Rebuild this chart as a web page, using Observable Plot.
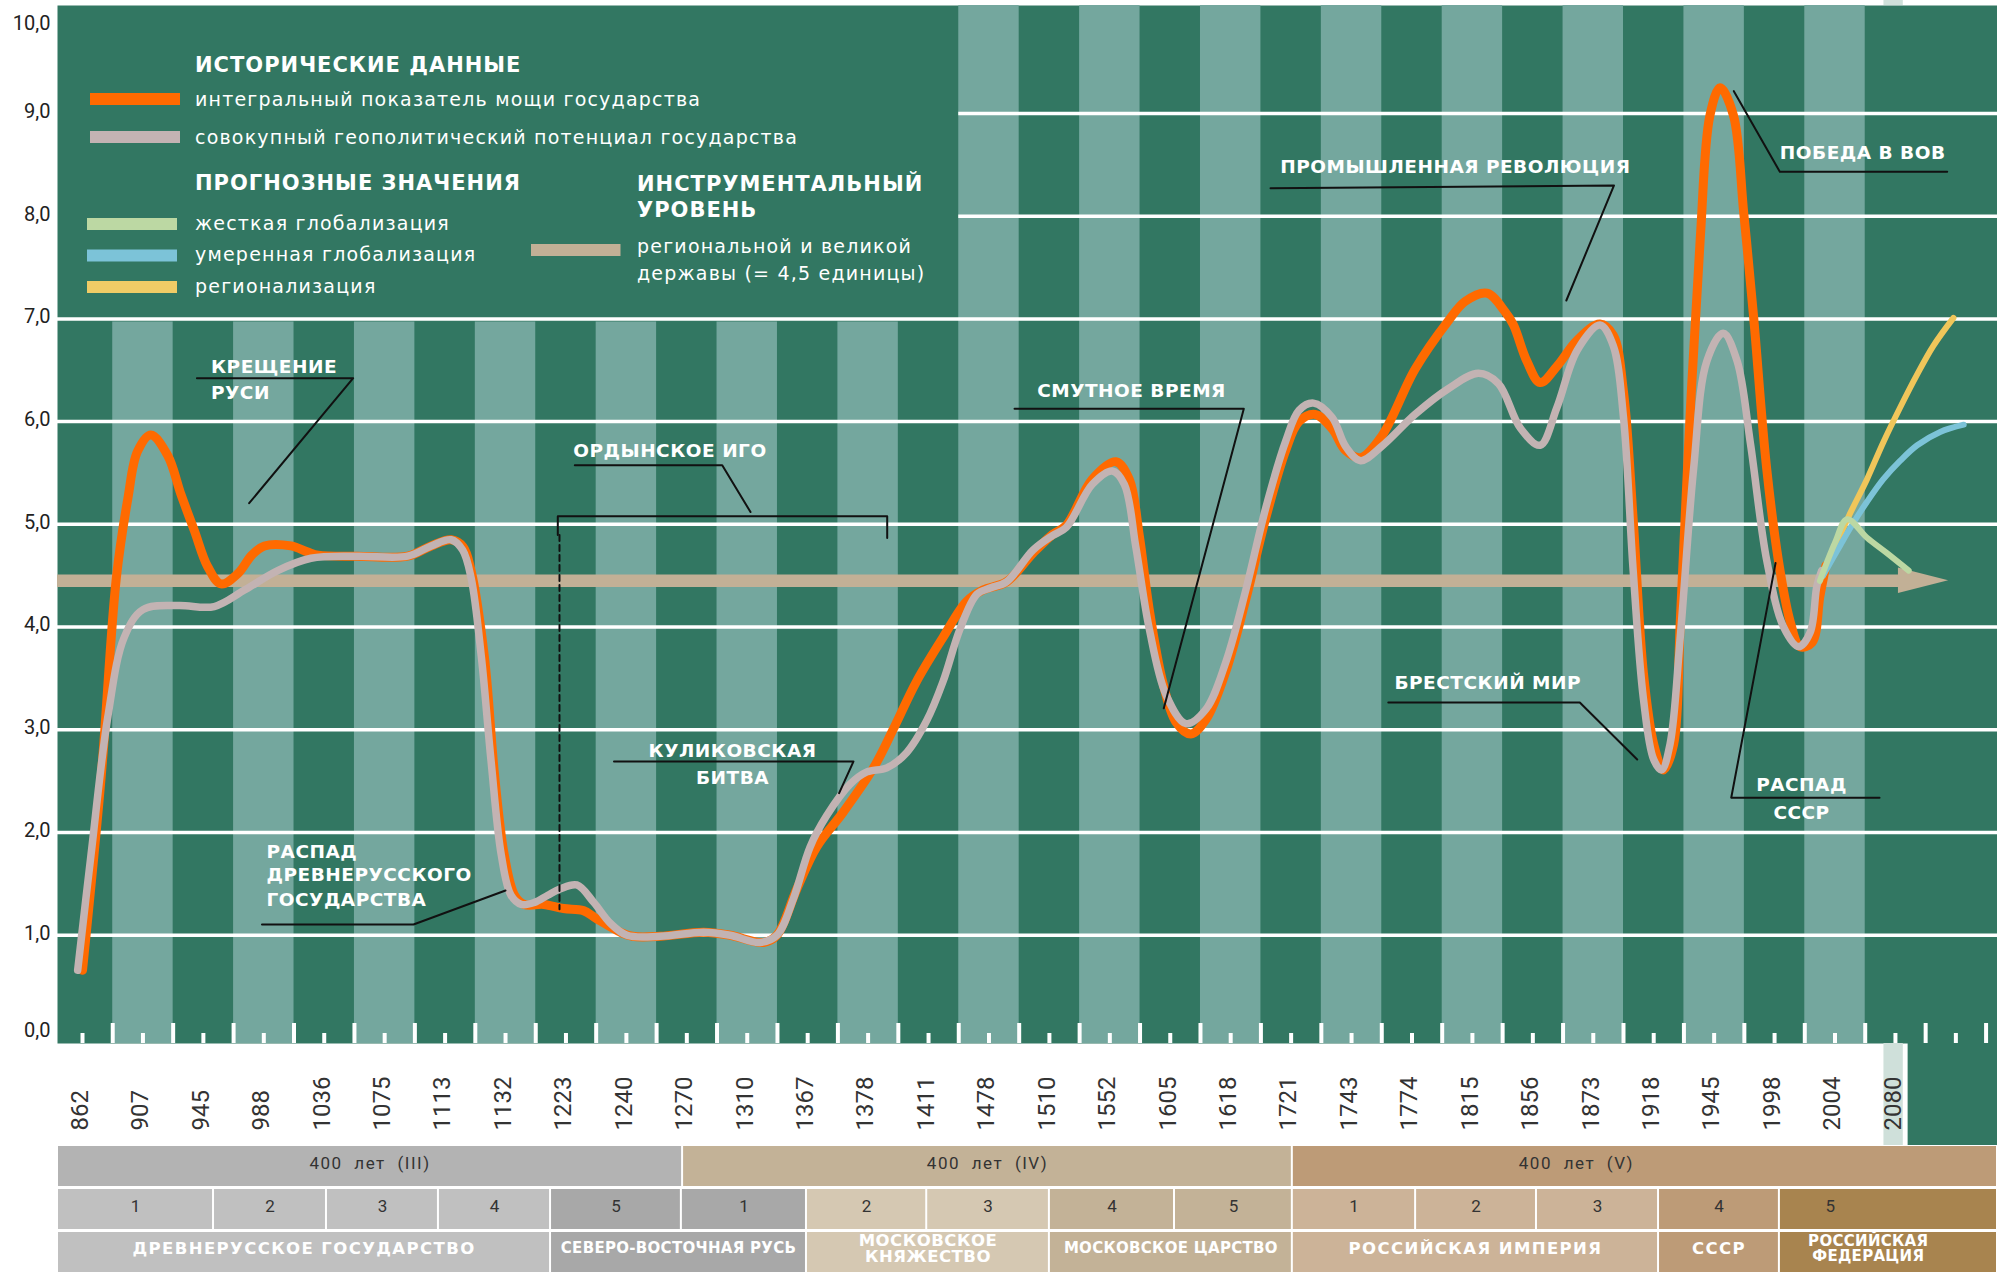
<!DOCTYPE html>
<html>
<head>
<meta charset="utf-8">
<script src="https://cdn.jsdelivr.net/npm/d3@7"></script>
<script src="https://cdn.jsdelivr.net/npm/@observablehq/plot@0.6"></script>
<style>
  html, body { margin: 0; padding: 0; background: #fff; }
  #chart svg { display: block; }
  g[aria-description="callouts"] text { letter-spacing: 0.5px; }
  g[aria-description="legend-head"] text { letter-spacing: 1px; }
  g[aria-description="legend-item"] text { letter-spacing: 1.2px; }
  g[aria-description="cycle-label"] text { letter-spacing: 1.5px; word-spacing: 6px; }
  g[aria-description="state-spaced"] text { letter-spacing: 1.4px; }
  g[aria-description="state-normal"] text { letter-spacing: 0.5px; }
  g[aria-description="state-tight"] text { letter-spacing: 0.3px; }
</style>
</head>
<body>
<div id="chart"></div>
<script>
// ---------- DATA ----------
const years = ["862","907","945","988","1036","1075","1113","1132","1223","1240","1270","1310","1367","1378","1411","1478","1510","1552","1605","1618","1721","1743","1774","1815","1856","1873","1918","1945","1998","2004","2080"];
const yTicks = [0,1,2,3,4,5,6,7,8,9,10];

// positions along the (evenly spaced) period axis, one unit per column
const orangeX = [0.50,0.81,1.06,1.25,1.41,1.63,1.91,2.13,2.35,2.57,2.79,3.07,3.30,3.51,3.95,4.23,4.40,5.05,5.88,6.27,6.60,6.80,6.93,7.15,7.32,7.48,7.65,7.81,8.13,8.46,8.79,9.01,9.40,9.60,10.06,10.78,11.22,11.77,11.99,12.32,12.65,13.09,13.59,13.92,14.30,14.74,15.13,15.40,15.79,16.23,16.55,16.78,17.21,17.60,17.82,17.99,18.15,18.37,18.59,18.84,19.09,19.42,19.75,20.08,20.41,20.63,20.90,21.18,21.40,21.65,22.00,22.55,23.10,23.38,23.74,24.04,24.18,24.40,24.62,24.90,25.23,25.61,25.83,26.00,26.16,26.33,26.50,26.66,26.83,26.94,27.10,27.27,27.43,27.60,27.82,27.99,28.15,28.37,28.59,28.76,28.92,29.12,29.25,29.35];
const orangeY = [0.66,2.55,4.48,5.25,5.71,5.87,5.67,5.29,4.94,4.59,4.42,4.52,4.70,4.79,4.79,4.73,4.70,4.69,4.69,4.79,4.85,4.78,4.55,3.71,2.55,1.78,1.39,1.30,1.30,1.26,1.24,1.16,1.03,0.99,0.99,1.03,1.00,0.93,1.00,1.45,1.86,2.20,2.63,3.01,3.47,3.90,4.25,4.36,4.44,4.72,4.90,4.99,5.44,5.61,5.44,4.88,4.18,3.48,3.08,2.96,3.10,3.57,4.27,5.06,5.72,6.00,6.07,5.93,5.72,5.65,5.86,6.51,6.98,7.17,7.25,7.07,6.94,6.59,6.38,6.54,6.79,6.95,6.84,6.29,5.05,3.55,2.86,2.61,2.86,4.06,6.04,7.78,8.98,9.25,8.98,8.03,7.04,5.54,4.55,4.05,3.81,3.85,4.30,4.60];

const greyX = [0.42,0.64,0.92,1.19,1.50,2.08,2.68,3.18,3.73,4.28,5.05,5.88,6.27,6.60,6.79,6.93,7.10,7.26,7.43,7.59,7.76,7.98,8.20,8.40,8.68,8.96,9.23,9.51,10.06,10.78,11.22,11.71,11.99,12.26,12.54,12.81,13.20,13.48,13.81,14.14,14.47,14.74,15.02,15.30,15.52,15.79,16.23,16.55,16.78,17.21,17.54,17.74,17.93,18.15,18.43,18.76,19.09,19.42,19.75,20.08,20.41,20.63,20.87,21.18,21.40,21.65,22.00,22.55,23.10,23.60,23.93,24.29,24.62,24.90,25.23,25.61,25.83,26.00,26.16,26.33,26.50,26.63,26.77,26.94,27.16,27.38,27.65,27.88,28.10,28.37,28.65,28.90,29.09,29.20,29.28];
const greyY = [0.66,1.78,3.13,3.90,4.17,4.21,4.20,4.36,4.55,4.67,4.69,4.69,4.79,4.85,4.75,4.48,3.71,2.70,1.78,1.39,1.30,1.32,1.39,1.45,1.49,1.32,1.12,1.00,0.99,1.03,1.00,0.93,1.00,1.35,1.86,2.16,2.47,2.59,2.63,2.78,3.09,3.47,3.98,4.32,4.38,4.44,4.75,4.89,4.97,5.39,5.52,5.39,4.78,3.99,3.34,3.06,3.20,3.66,4.36,5.16,5.81,6.11,6.18,6.04,5.76,5.62,5.76,6.07,6.32,6.47,6.37,5.94,5.77,6.14,6.69,6.94,6.74,6.04,4.55,3.30,2.71,2.61,2.86,3.91,5.54,6.59,6.86,6.59,5.79,4.65,4.00,3.81,3.95,4.40,4.55];

const hardX = [29.25,29.50,29.70,30.03,30.36,30.72];
const hardY = [4.45,4.82,5.05,4.87,4.72,4.55];
const modX  = [29.30,29.59,29.81,30.03,30.30,30.58,30.86,31.24,31.63];
const modY  = [4.50,4.80,5.02,5.22,5.44,5.62,5.77,5.90,5.97];
const regX  = [29.30,29.50,29.72,30.03,30.30,30.58,30.86,31.13,31.46];
const regY  = [4.50,4.78,5.07,5.44,5.80,6.14,6.46,6.74,7.01];

const powerLevel = 4.45;  // инструментальный уровень

const legendHist = [
  {label: "интегральный показатель мощи государства", color: "#ff6a00"},
  {label: "совокупный геополитический потенциал государства", color: "#c3b3b3"}
];
const legendForecast = [
  {label: "жесткая глобализация", color: "#bcd8a3"},
  {label: "умеренная глобализация", color: "#7cc3d8"},
  {label: "регионализация", color: "#f0cc66"}
];

// annotation call-outs (in axis units)
const calloutLines = [
  {id: "kreshchenie", pts: [[2.393,6.423],[4.979,6.423],[3.258,5.206]]},
  {id: "raspad1", pts: [[3.470,1.105],[5.977,1.105],[7.50,1.436]]},
  {id: "kulikovo", pts: [[9.295,2.692],[13.258,2.692],[13.02,2.383]]},
  {id: "orda", pts: [[8.646,5.575],[11.086,5.575],[11.554,5.120]]},
  {id: "ordaBracket", pts: [[8.365,4.896],[8.365,5.078],[13.816,5.078],[13.816,4.866]]},
  {id: "smuta", pts: [[15.923,6.126],[19.717,6.126],[18.393,3.209]]},
  {id: "industry", pts: [[20.159,8.272],[25.843,8.299],[25.054,7.179]]},
  {id: "pobeda", pts: [[27.826,9.217],[28.587,8.433],[31.357,8.433]]},
  {id: "brest", pts: [[22.108,3.266],[25.277,3.266],[26.227,2.711]]},
  {id: "raspad2", pts: [[28.516,4.623],[27.783,2.339],[30.237,2.339]]}
];
const ordaDashed = [[8.393,4.896],[8.393,1.254]];
const calloutText = [
  {text: "КРЕЩЕНИЕ", x: 2.626, y: 6.527, anchor: "start"},
  {text: "РУСИ", x: 2.626, y: 6.274, anchor: "start"},
  {text: "РАСПАД", x: 3.545, y: 1.811, anchor: "start"},
  {text: "ДРЕВНЕРУССКОГО", x: 3.545, y: 1.582, anchor: "start"},
  {text: "ГОСУДАРСТВА", x: 3.545, y: 1.343, anchor: "start"},
  {text: "ОРДЫНСКОЕ ИГО", x: 8.62, y: 5.714, anchor: "start"},
  {text: "КУЛИКОВСКАЯ", x: 11.256, y: 2.796, anchor: "middle"},
  {text: "БИТВА", x: 11.256, y: 2.534, anchor: "middle"},
  {text: "СМУТНОЕ ВРЕМЯ", x: 16.298, y: 6.298, anchor: "start"},
  {text: "ПРОМЫШЛЕННАЯ РЕВОЛЮЦИЯ", x: 20.32, y: 8.474, anchor: "start"},
  {text: "ПОБЕДА В ВОВ", x: 28.587, y: 8.611, anchor: "start"},
  {text: "БРЕСТСКИЙ МИР", x: 22.21, y: 3.454, anchor: "start"},
  {text: "РАСПАД", x: 28.946, y: 2.463, anchor: "middle"},
  {text: "СССР", x: 28.946, y: 2.189, anchor: "middle"}
];

// period bars below the chart
const cycles = [
  {label: "400 лет (III)", x1: 0.0861, x2: 10.43, fill: "#b3b3b3"},
  {label: "400 лет (IV)", x1: 10.43, x2: 20.52, fill: "#c3b297"},
  {label: "400 лет (V)", x1: 20.52, x2: 32.189, fill: "#bd9b77", at: 25.22}
];
const phases = [
  {label: "1", x1: 0.0861, x2: 2.668, fill: "#c0c0c0"},
  {label: "2", x1: 2.668, x2: 4.537, fill: "#c0c0c0"},
  {label: "3", x1: 4.537, x2: 6.39, fill: "#c0c0c0"},
  {label: "4", x1: 6.39, x2: 8.245, fill: "#c0c0c0"},
  {label: "5", x1: 8.245, x2: 10.41, fill: "#a8a8a8"},
  {label: "1", x1: 10.41, x2: 12.48, fill: "#a8a8a8"},
  {label: "2", x1: 12.48, x2: 14.47, fill: "#d5c8b2"},
  {label: "3", x1: 14.47, x2: 16.50, fill: "#d5c8b2"},
  {label: "4", x1: 16.50, x2: 18.57, fill: "#c3b297"},
  {label: "5", x1: 18.57, x2: 20.52, fill: "#c3b297"},
  {label: "1", x1: 20.52, x2: 22.56, fill: "#ccb398"},
  {label: "2", x1: 22.56, x2: 24.56, fill: "#ccb398"},
  {label: "3", x1: 24.56, x2: 26.58, fill: "#ccb398"},
  {label: "4", x1: 26.58, x2: 28.58, fill: "#bd9b77"},
  {label: "5", x1: 28.58, x2: 32.189, fill: "#a8844f", at: 29.42}
];
const states = [
  {label: "ДРЕВНЕРУССКОЕ ГОСУДАРСТВО", x1: 0.0861, x2: 8.245, fill: "#c0c0c0"},
  {label: "СЕВЕРО-ВОСТОЧНАЯ РУСЬ", x1: 8.245, x2: 12.48, fill: "#a8a8a8"},
  {label: "МОСКОВСКОЕ\nКНЯЖЕСТВО", x1: 12.48, x2: 16.50, fill: "#d5c8b2"},
  {label: "МОСКОВСКОЕ ЦАРСТВО", x1: 16.50, x2: 20.52, fill: "#c3b297"},
  {label: "РОССИЙСКАЯ ИМПЕРИЯ", x1: 20.52, x2: 26.58, fill: "#ccb398"},
  {label: "СССР", x1: 26.58, x2: 28.58, fill: "#bd9b77"},
  {label: "РОССИЙСКАЯ\nФЕДЕРАЦИЯ", x1: 28.58, x2: 32.189, fill: "#a8844f", at: 30.05}
];

// ---------- LAYOUT ----------
const W = 1997, MAIN_H = 1145, BAND_H = 127;
const ML = 57, MT = 5, MB = 102;
const U0 = 0.0861, U1 = 32.189, V0 = -0.0535, V1 = 10.0506;
const px2u = px => U0 + (px - ML) * (U1 - U0) / (W - ML);
const py2v = py => V1 - (py - MT) * (V1 - V0) / (MAIN_H - MB - MT);

const DARK = "#327762", LIGHT = "#74a79e", TAN = "#c2b096";
const BOLD = "DejaVu Sans", REG = "DejaVu Sans";

const pts = (xs, ys) => xs.map((x, i) => ({x, y: ys[i]}));
const nCols = years.length - 1;
const stripes = d3.range(nCols).filter(k => k % 2 === 1)
  .map(k => ({x1: k, x2: k + 1, y1: V0, y2: k < nCols / 2 ? 6.97 : V1}));
const gridLevels = yTicks.filter(v => v > 0 && v < 10);
const longTicks = d3.range(1, Math.floor(U1) + 1);
const shortTicks = d3.range(0, Math.floor(U1)).map(k => k + 0.5);
const calloutPts = calloutLines.flatMap(c => c.pts.map(([x, y]) => ({id: c.id, x, y})));
const arrowHead = [
  {x: 30.55, y1: powerLevel - 0.124, y2: powerLevel + 0.124},
  {x: 31.38, y1: powerLevel, y2: powerLevel}
];
const yLab = v => v.toFixed(1).replace(".", ",");

const histRows = legendHist.map((d, i) => ({...d, cy: 99 + 38 * i}));
const fcRows = legendForecast.map((d, i) => ({...d, cy: 224 + 31.5 * i}));

// typographic groups for the state names (letter spacing differs in the original)
const spacedNames = ["ДРЕВНЕРУССКОЕ ГОСУДАРСТВО", "РОССИЙСКАЯ ИМПЕРИЯ", "СССР"];
const tightNames = ["СЕВЕРО-ВОСТОЧНАЯ РУСЬ", "МОСКОВСКОЕ ЦАРСТВО", "РОССИЙСКАЯ\nФЕДЕРАЦИЯ"];
const stateGroup = d => spacedNames.includes(d.label) ? "spaced" : tightNames.includes(d.label) ? "tight" : "normal";
const stateText = (group, size) => Plot.text(states.filter(d => stateGroup(d) === group), {
  x: d => d.at ?? (d.x1 + d.x2) / 2, y: () => "state", text: "label", dy: -4, lineHeight: 1.0,
  fill: "#fff", fontFamily: BOLD, fontWeight: 700, fontSize: size, ariaDescription: "state-" + group});

const main = Plot.plot({
  width: W, height: MAIN_H,
  marginLeft: ML, marginRight: 0, marginTop: MT, marginBottom: MB,
  x: {type: "linear", domain: [U0, U1], axis: null},
  y: {type: "linear", domain: [V0, V1], axis: null},
  color: {type: "identity"},
  marks: [
    Plot.frame({fill: DARK, stroke: null}),
    Plot.rect(stripes, {x1: "x1", x2: "x2", y1: "y1", y2: "y2", fill: LIGHT}),
    Plot.rect([{x1: 30.31, x2: 30.63, y1: V1, y2: 10.2}, {x1: 30.31, x2: 30.63, y1: V0, y2: -1.05}],
      {x1: "x1", x2: "x2", y1: "y1", y2: "y2", fill: "#cfe0da"}),
    Plot.rect([{x1: 30.71, x2: U1, y1: V0, y2: -1.05}], {x1: "x1", x2: "x2", y1: "y1", y2: "y2", fill: DARK}),
    Plot.ruleY(gridLevels, {y: d => d, x1: d => d >= 8 ? nCols / 2 : U0, x2: () => U1, stroke: "#fff", strokeWidth: 3.5}),
    Plot.ruleX(longTicks, {x: d => d, y1: () => V0, y2: () => 0.141, stroke: "#fff", strokeWidth: 4}),
    Plot.ruleX(shortTicks, {x: d => d, y1: () => V0, y2: () => 0.044, stroke: "#fff", strokeWidth: 4}),
    Plot.ruleY([powerLevel], {y: d => d, x1: () => U0, x2: () => 30.6, stroke: TAN, strokeWidth: 12.5}),
    Plot.areaY(arrowHead, {x: "x", y1: "y1", y2: "y2", fill: TAN}),
    Plot.line(pts(orangeX, orangeY), {x: "x", y: "y", stroke: "#ff6a00", strokeWidth: 9, curve: "catmull-rom"}),
    Plot.line(pts(greyX, greyY), {x: "x", y: "y", stroke: "#c3b3b3", strokeWidth: 7.5, curve: "catmull-rom"}),
    Plot.line(pts(regX, regY), {x: "x", y: "y", stroke: "#f0c65a", strokeWidth: 6, curve: "catmull-rom"}),
    Plot.line(pts(modX, modY), {x: "x", y: "y", stroke: "#7cc3d8", strokeWidth: 6, curve: "catmull-rom"}),
    Plot.line(pts(hardX, hardY), {x: "x", y: "y", stroke: "#bcd8a3", strokeWidth: 6, curve: "catmull-rom"}),
    Plot.line(ordaDashed.map(([x, y]) => ({x, y})), {x: "x", y: "y", stroke: "#111", strokeWidth: 2, strokeDasharray: "6,4"}),
    Plot.line(calloutPts, {x: "x", y: "y", z: "id", stroke: "#111", strokeWidth: 2}),
    Plot.text(calloutText.filter(d => d.anchor === "start"), {x: "x", y: "y", text: "text", textAnchor: "start",
      fill: "#fff", fontFamily: BOLD, fontWeight: 700, fontSize: 18.5, ariaDescription: "callouts"}),
    Plot.text(calloutText.filter(d => d.anchor === "middle"), {x: "x", y: "y", text: "text", textAnchor: "middle",
      fill: "#fff", fontFamily: BOLD, fontWeight: 700, fontSize: 18.5, ariaDescription: "callouts"}),
    // legend
    Plot.text(["ИСТОРИЧЕСКИЕ ДАННЫЕ", "ПРОГНОЗНЫЕ ЗНАЧЕНИЯ"], {x: () => px2u(194.5), y: (d, i) => py2v([64.5, 183][i]), text: d => d,
      textAnchor: "start", fill: "#fff", fontFamily: BOLD, fontWeight: 700, fontSize: 21, ariaDescription: "legend-head"}),
    Plot.text(["ИНСТРУМЕНТАЛЬНЫЙ", "УРОВЕНЬ"], {x: () => px2u(636.5), y: (d, i) => py2v(184 + 26 * i), text: d => d,
      textAnchor: "start", fill: "#fff", fontFamily: BOLD, fontWeight: 700, fontSize: 21, ariaDescription: "legend-head"}),
    Plot.rect(histRows, {x1: () => px2u(90), x2: () => px2u(180), y1: d => py2v(d.cy + 6), y2: d => py2v(d.cy - 6), fill: d => d.color}),
    Plot.text(histRows, {x: () => px2u(194.5), y: d => py2v(d.cy), text: "label", textAnchor: "start",
      fill: "#fff", fontFamily: REG, fontSize: 19, ariaDescription: "legend-item"}),
    Plot.rect(fcRows, {x1: () => px2u(87), x2: () => px2u(177), y1: d => py2v(d.cy + 6), y2: d => py2v(d.cy - 6), fill: d => d.color}),
    Plot.text(fcRows, {x: () => px2u(194.5), y: d => py2v(d.cy - 1), text: "label", textAnchor: "start",
      fill: "#fff", fontFamily: REG, fontSize: 19, ariaDescription: "legend-item"}),
    Plot.rect([powerLevel], {x1: () => px2u(531), x2: () => px2u(620.5), y1: () => py2v(256), y2: () => py2v(244), fill: TAN}),
    Plot.text(["региональной и великой", "державы (= 4,5 единицы)"], {x: () => px2u(636.5), y: (d, i) => py2v(246 + 27 * i), text: d => d,
      textAnchor: "start", fill: "#fff", fontFamily: REG, fontSize: 19, ariaDescription: "legend-item"}),
    // y axis labels
    Plot.text(yTicks.filter(v => v > 0 && v < 10), {x: () => px2u(50), y: d => d, text: yLab, textAnchor: "end", dy: -2,
      fill: "#222", fontFamily: "Roboto", fontSize: 20}),
    Plot.text([0], {x: () => px2u(50), y: d => d, text: yLab, textAnchor: "end", dy: -7, fill: "#222", fontFamily: "Roboto", fontSize: 20}),
    Plot.text([10], {x: () => px2u(50), y: d => d, text: yLab, textAnchor: "end", dy: 13, fill: "#222", fontFamily: "Roboto", fontSize: 20}),
    // x axis labels (rotated years)
    Plot.text(years, {x: (d, i) => i + 0.46, y: () => py2v(1130), text: d => d, rotate: -90, textAnchor: "start",
      fill: "#333", fontFamily: "Roboto", fontSize: 24})
  ]
});

const bands = Plot.plot({
  width: W, height: BAND_H,
  marginLeft: ML, marginRight: 0, marginTop: 0, marginBottom: 0,
  x: {type: "linear", domain: [U0, U1], axis: null},
  y: {type: "band", domain: ["cycle", "phase", "state"], paddingInner: 0.07, paddingOuter: 0, axis: null},
  color: {type: "identity"},
  marks: [
    Plot.barX(cycles, {x1: "x1", x2: "x2", y: () => "cycle", fill: "fill", insetLeft: 1, insetRight: 1}),
    Plot.barX(phases, {x1: "x1", x2: "x2", y: () => "phase", fill: "fill", insetLeft: 1, insetRight: 1}),
    Plot.barX(states, {x1: "x1", x2: "x2", y: () => "state", fill: "fill", insetLeft: 1, insetRight: 1}),
    Plot.text(cycles, {x: d => d.at ?? (d.x1 + d.x2) / 2, y: () => "cycle", text: "label", dy: -3,
      fill: "#333", fontFamily: "Roboto", fontSize: 17, ariaDescription: "cycle-label"}),
    Plot.text(phases, {x: d => d.at ?? (d.x1 + d.x2) / 2, y: () => "phase", text: "label", dy: -3,
      fill: "#333", fontFamily: "Roboto", fontSize: 17}),
    stateText("spaced", 16.5),
    stateText("normal", 16.5),
    stateText("tight", 15)
  ]
});

document.getElementById("chart").append(main, bands);
</script>
</body>
</html>
